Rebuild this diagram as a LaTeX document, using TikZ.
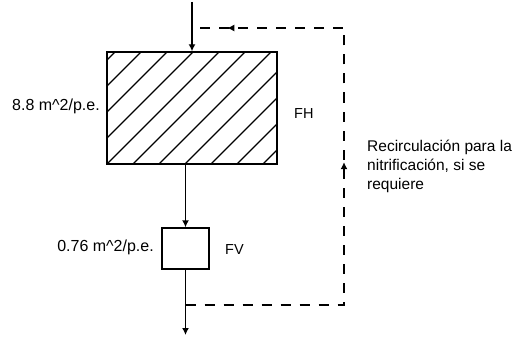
\documentclass[tikz,border=0pt]{standalone}
\usepackage{fontspec}
\setmainfont{Liberation Sans}
\usepackage{tikz}
\usetikzlibrary{arrows.meta,calc,decorations.markings}

\begin{document}
\begin{tikzpicture}[
    x=1pt,y=-1pt,
    box/.style={draw,line width=1.4pt,inner sep=0pt},
    txt/.style={font=\fontsize{14.5}{19}\selectfont,inner sep=0pt},
    area/.style={font=\fontsize{16}{19}\selectfont,inner sep=0pt},
    note/.style={font=\fontsize{15.5}{19}\selectfont,inner sep=0pt},
    line/.style={-{Latex[length=7pt,width=7pt]},line width=1.4pt},
    hatch/.style={line width=1.1pt},
    recirc/.style={line width=1.4pt,dash pattern=on 10pt off 9pt,
        postaction={decorate},
        decoration={markings,
            mark=at position 0.513 with {\arrow{Latex[length=7pt,width=7pt]}},
            mark=at position 0.94 with {\arrow{Latex[length=7pt,width=7pt]}}}}
]
    \useasboundingbox (0,0) rectangle (525,337);

    % filtros
    \node[box,minimum width=170pt,minimum height=112pt] (fh) at (192,108) {};
    \node[box,minimum width=47pt,minimum height=41pt] (fv) at (185.5,248.5) {};

    % rayado del filtro horizontal
    \begin{scope}
        \clip (fh.south west) rectangle (fh.north east);
        \foreach \i in {-5,...,7}
            \draw[hatch] ($(fh.south west)+(\i*26,0)$) -- ++(130,-130);
    \end{scope}

    % textos
    \node[area,anchor=east] (fharea) at (100,106) {8.8 m\textasciicircum2/p.e.};
    \node[txt,anchor=west] (fhname) at (294,114) {FH};
    \node[area,anchor=east] (fvarea) at (154,247) {0.76 m\textasciicircum2/p.e.};
    \node[txt,anchor=west] (fvname) at (225,250) {FV};
    \node[note,anchor=west,align=left] (recnote) at (367,166)
        {Recirculación para la\\nitrificación, si se\\requiere};

    % puntos de la recirculación
    \coordinate (in) at (192,2);
    \coordinate (out) at (185.5,335);
    \coordinate (tap) at (185.5,305);
    \coordinate (cb) at (344,305);
    \coordinate (ct) at (344,28);
    \coordinate (join) at (192,28);

    \draw[line] (in) -- (fh.north);
    \draw[line] (fv.north |- fh.south) -- (fv.north);
    \draw[line] (fv.south) -- (out);
    \draw[recirc] (tap) -- (cb) -- (ct) -- (join);
\end{tikzpicture}
\end{document}
